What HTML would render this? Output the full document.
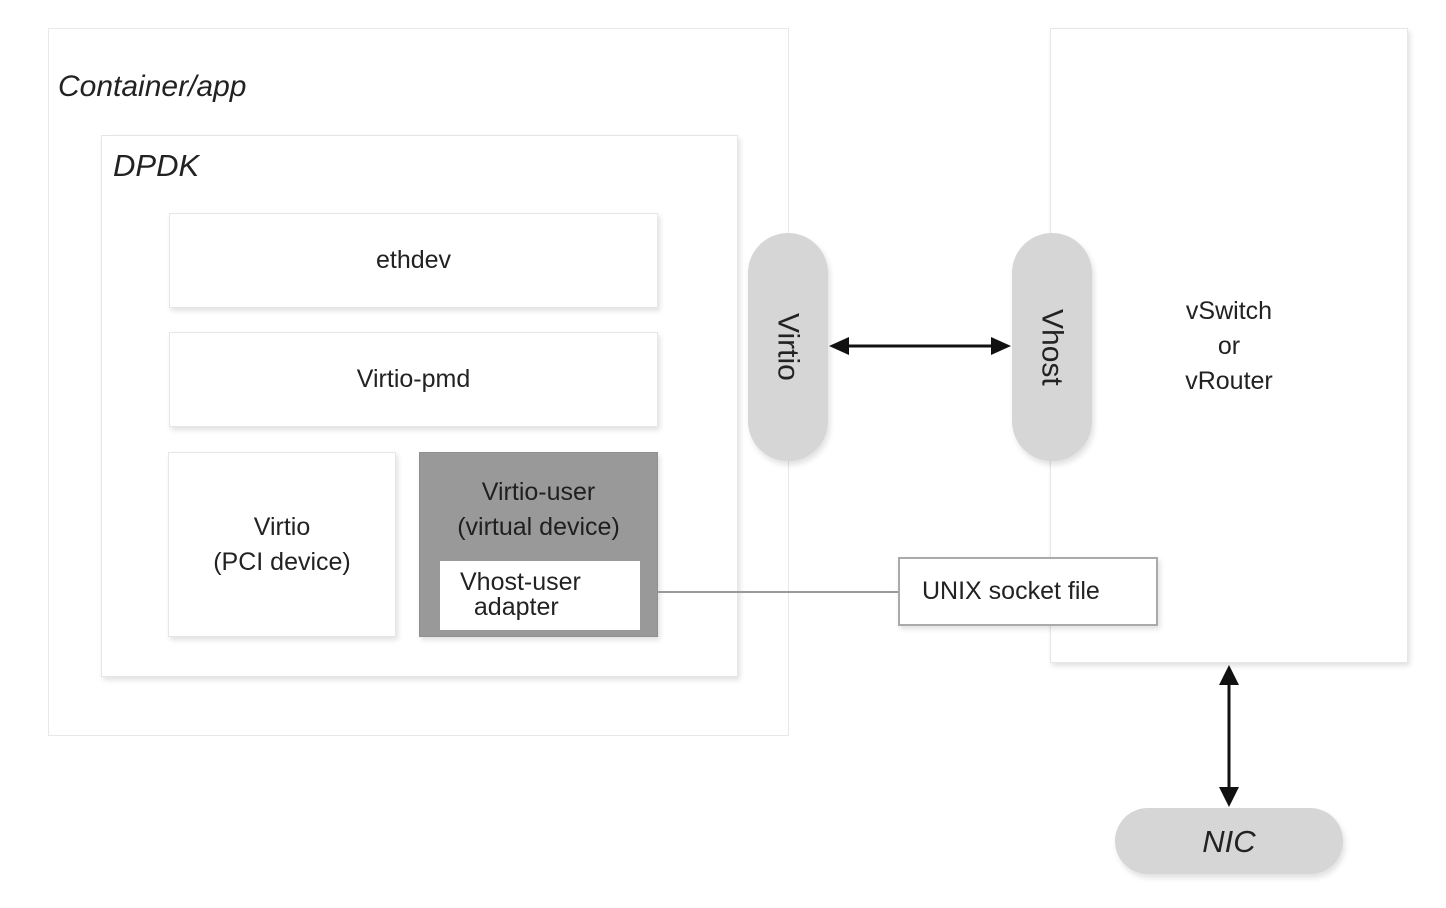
<!DOCTYPE html>
<html><head><style>
body{margin:0;width:1446px;height:908px;background:#fff;position:relative;overflow:hidden;font-family:"Liberation Sans",sans-serif;color:#222}
.b{position:absolute;box-sizing:border-box;background:#fff;border:1px solid #e6e6e6;box-shadow:2px 3px 5px rgba(0,0,0,0.12)}
.c{display:flex;align-items:center;justify-content:center;text-align:center;font-size:25px;line-height:35px}
.pill{position:absolute;background:#d6d6d6;border-radius:40px;box-shadow:2px 4px 6px rgba(0,0,0,0.12)}
</style></head><body>
<div class="b" style="left:48px;top:28px;width:741px;height:708px;box-shadow:none;border-color:#e8e8e8"></div>
<div style="position:absolute;left:58px;top:70px;font-size:30px;font-style:italic">Container/app</div>
<div class="b" style="left:101px;top:135px;width:637px;height:542px"></div>
<div style="position:absolute;left:113px;top:148px;font-size:31px;font-style:italic">DPDK</div>
<div class="b c" style="left:169px;top:213px;width:489px;height:95px">ethdev</div>
<div class="b c" style="left:169px;top:332px;width:489px;height:95px">Virtio-pmd</div>
<div class="b c" style="left:168px;top:452px;width:228px;height:185px">Virtio<br>(PCI device)</div>
<div class="b" style="left:419px;top:452px;width:239px;height:185px;background:#999;border-color:#8f8f8f"></div>
<div class="c" style="position:absolute;left:419px;top:474px;width:239px;height:72px;color:#1f1f1f">Virtio-user<br>(virtual device)</div>
<div style="position:absolute;left:440px;top:561px;width:200px;height:69px;background:#fff;font-size:25px;line-height:25px;padding:9px 0 0 20px;box-sizing:border-box">Vhost-user<br>&nbsp;&nbsp;adapter</div>
<div style="position:absolute;left:640px;top:591px;width:258px;height:2px;background:#999"></div>
<div class="b" style="left:1050px;top:28px;width:358px;height:635px"></div>
<div class="c" style="position:absolute;left:1150px;top:292px;width:158px;height:108px">vSwitch<br>or<br>vRouter</div>
<div class="b c" style="left:898px;top:557px;width:260px;height:69px;border:2px solid #aaa;justify-content:flex-start;padding-left:22px">UNIX socket file</div>
<div class="pill c" style="left:748px;top:233px;width:80px;height:228px"><span style="writing-mode:vertical-rl;font-size:30px">Virtio</span></div>
<div class="pill c" style="left:1012px;top:233px;width:80px;height:228px"><span style="writing-mode:vertical-rl;font-size:30px">Vhost</span></div>
<div class="pill c" style="left:1115px;top:808px;width:228px;height:66px;font-size:31px;font-style:italic">NIC</div>
<svg style="position:absolute;left:0;top:0" width="1446" height="908">
<line x1="840" y1="346" x2="1000" y2="346" stroke="#111" stroke-width="3"/>
<polygon points="829,346 849,337 849,355" fill="#111"/>
<polygon points="1011,346 991,337 991,355" fill="#111"/>
<line x1="1229" y1="676" x2="1229" y2="795" stroke="#111" stroke-width="3"/>
<polygon points="1229,665 1219,685 1239,685" fill="#111"/>
<polygon points="1229,807 1219,787 1239,787" fill="#111"/>
</svg>
</body></html>
